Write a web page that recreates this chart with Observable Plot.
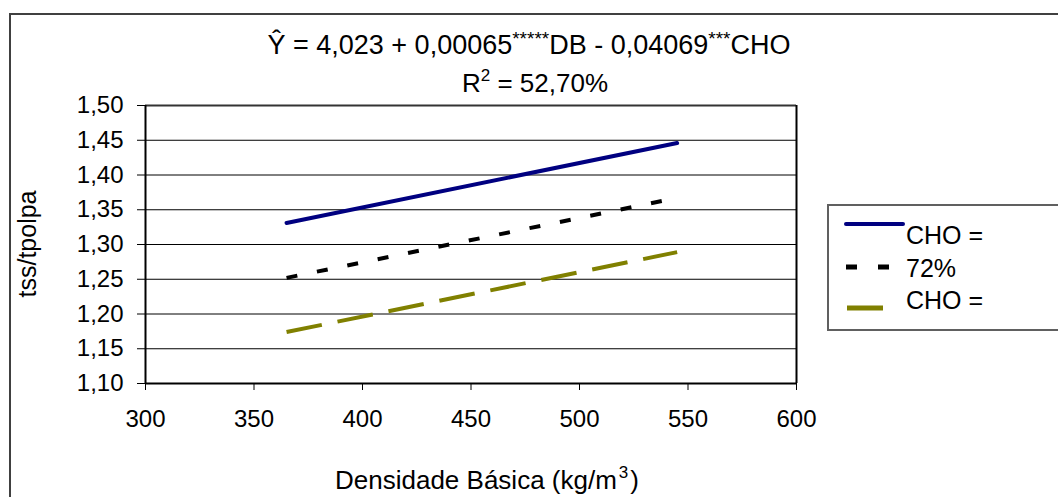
<!DOCTYPE html>
<html>
<head>
<meta charset="utf-8">
<script src="https://cdn.jsdelivr.net/npm/d3@7"></script>
<script src="https://cdn.jsdelivr.net/npm/@observablehq/plot@0.6"></script>
<style>
  html, body { margin: 0; padding: 0; background: #fff; }
  #wrap { position: relative; width: 1058px; height: 497px; overflow: hidden; font-family: "Liberation Sans", Arial, sans-serif; }
  #wrap > svg { position: absolute; left: 0; top: 0; }
</style>
</head>
<body>
<div id="wrap"></div>
<script>
// ---- data ----
const densidade = [365, 545];                 // Densidade Básica (kg/m3)
const serieAzul = [1.331, 1.446];             // solid navy line
const seriePreta = [1.252, 1.367];            // dashed black line
const serieOliva = [1.174, 1.289];            // long-dash olive line
const legendLabels = ["CHO =", "72%", "CHO ="];
const xTicks = [300, 350, 400, 450, 500, 550, 600];
const yTicks = [1.10, 1.15, 1.20, 1.25, 1.30, 1.35, 1.40, 1.45, 1.50];
const titleLine1 = "Ŷ = 4,023 + 0,00065*****DB - 0,04069***CHO";
const xLabelParts = ["Densidade Básica (kg/m", "3", ")"];   // middle part is a superscript
const yLabel = "tss/tpolpa";

const series = [
  {name: "azul", values: serieAzul, stroke: "#000080", dash: null, cap: "round"},
  {name: "preta", values: seriePreta, stroke: "#000000", dash: "11,20", cap: "butt"},
  {name: "oliva", values: serieOliva, stroke: "#808000", dash: "36,16", cap: "butt"}
];
const rows = series.flatMap(s => densidade.map((d, i) => ({serie: s.name, db: d, v: s.values[i]})));

const fmt = d => d3.format(".2f")(d).replace(".", ",");

const chart = Plot.plot({
  width: 1058,
  height: 497,
  marginLeft: 145,
  marginRight: 262,
  marginTop: 105,
  marginBottom: 114,
  style: {fontFamily: "'Liberation Sans', Arial, sans-serif", fontSize: "24px", color: "#000", background: "transparent"},
  x: {domain: [300, 600]},
  y: {domain: [1.10, 1.50]},
  marks: [
    Plot.gridY(yTicks.filter(t => t > 1.10), {stroke: "#000", strokeOpacity: 1, strokeWidth: 1}),
    Plot.ruleY([1.50], {stroke: "#333", strokeWidth: 2}),
    Plot.axisY({ticks: yTicks, tickFormat: fmt, tickSize: 8, tickPadding: 14, label: null, fontSize: 24}),
    Plot.axisX({ticks: xTicks, tickFormat: d => String(d), tickSize: 7, tickPadding: 19, label: null, fontSize: 24}),
    Plot.ruleX([600], {stroke: "#000", strokeWidth: 2}),
    Plot.ruleX([300], {stroke: "#000", strokeWidth: 2}),
    Plot.ruleY([1.10], {stroke: "#000", strokeWidth: 2}),
    ...series.map(s => Plot.line(rows.filter(r => r.serie === s.name), {
      x: "db", y: "v", stroke: s.stroke, strokeWidth: 4,
      strokeDasharray: s.dash, strokeLinecap: s.cap
    }))
  ]
});

const wrap = document.getElementById("wrap");
wrap.appendChild(chart);

// ---- overlay: frame, titles, axis labels, legend ----
const ov = d3.select(wrap).append("svg")
  .attr("width", 1058).attr("height", 497)
  .style("font-family", "'Liberation Sans', Arial, sans-serif");

ov.append("rect").attr("x", 10).attr("y", 14).attr("width", 1200).attr("height", 700)
  .attr("fill", "none").attr("stroke", "#404040").attr("stroke-width", 2);

// title line 1 with superscript asterisks
const t1 = ov.append("text").attr("x", 529).attr("y", 54).attr("text-anchor", "middle")
  .attr("font-size", 27).attr("fill", "#000");
let up = false;
titleLine1.split(/(\*+)/).forEach(p => {
  if (!p) return;
  const isSup = /^\*+$/.test(p);
  const ts = t1.append("tspan").text(p);
  if (isSup && !up) { ts.attr("dy", -9).attr("font-size", 19); up = true; }
  else if (!isSup && up) { ts.attr("dy", 9); up = false; }
});

// title line 2: R² = 52,70%
const t2 = ov.append("text").attr("x", 535).attr("y", 92).attr("text-anchor", "middle")
  .attr("font-size", 26).attr("fill", "#000");
t2.append("tspan").text("R");
t2.append("tspan").attr("dy", -11).attr("font-size", 17).text("2");
t2.append("tspan").attr("dy", 11).text(" = 52,70%");

// x label with superscript 3
const xl = ov.append("text").attr("x", 487).attr("y", 489).attr("text-anchor", "middle")
  .attr("font-size", 26).attr("fill", "#000");
xl.append("tspan").text(xLabelParts[0]);
xl.append("tspan").attr("dy", -11).attr("dx", 2).attr("font-size", 17).text(xLabelParts[1]);
xl.append("tspan").attr("dy", 11).attr("dx", 2).text(xLabelParts[2]);

// y label
ov.append("text").attr("transform", "translate(36,244) rotate(-90)")
  .attr("text-anchor", "middle").attr("font-size", 25).attr("fill", "#000").text(yLabel);

// legend
const lg = ov.append("g");
lg.append("rect").attr("x", 828).attr("y", 205).attr("width", 400).attr("height", 125)
  .attr("fill", "#fff").attr("stroke", "#606060").attr("stroke-width", 2);
const sw = [
  {x1: 846, x2: 903, y: 224, s: series[0], dash: null},
  {x1: 846, x2: 890, y: 267, s: series[1], dash: "11,21"},
  {x1: 847, x2: 883, y: 308, s: series[2], dash: null}
];
sw.forEach(o => {
  lg.append("line").attr("x1", o.x1).attr("x2", o.x2).attr("y1", o.y).attr("y2", o.y)
    .attr("stroke", o.s.stroke).attr("stroke-width", o.s.name === "azul" ? 4 : 5)
    .attr("stroke-dasharray", o.dash)
    .attr("stroke-linecap", o.s.cap);
});
const lgBase = [244, 277, 309];
legendLabels.forEach((t, i) => {
  lg.append("text").attr("x", 906).attr("y", lgBase[i]).attr("font-size", 25)
    .attr("fill", "#000").text(t);
});
</script>
</body>
</html>
